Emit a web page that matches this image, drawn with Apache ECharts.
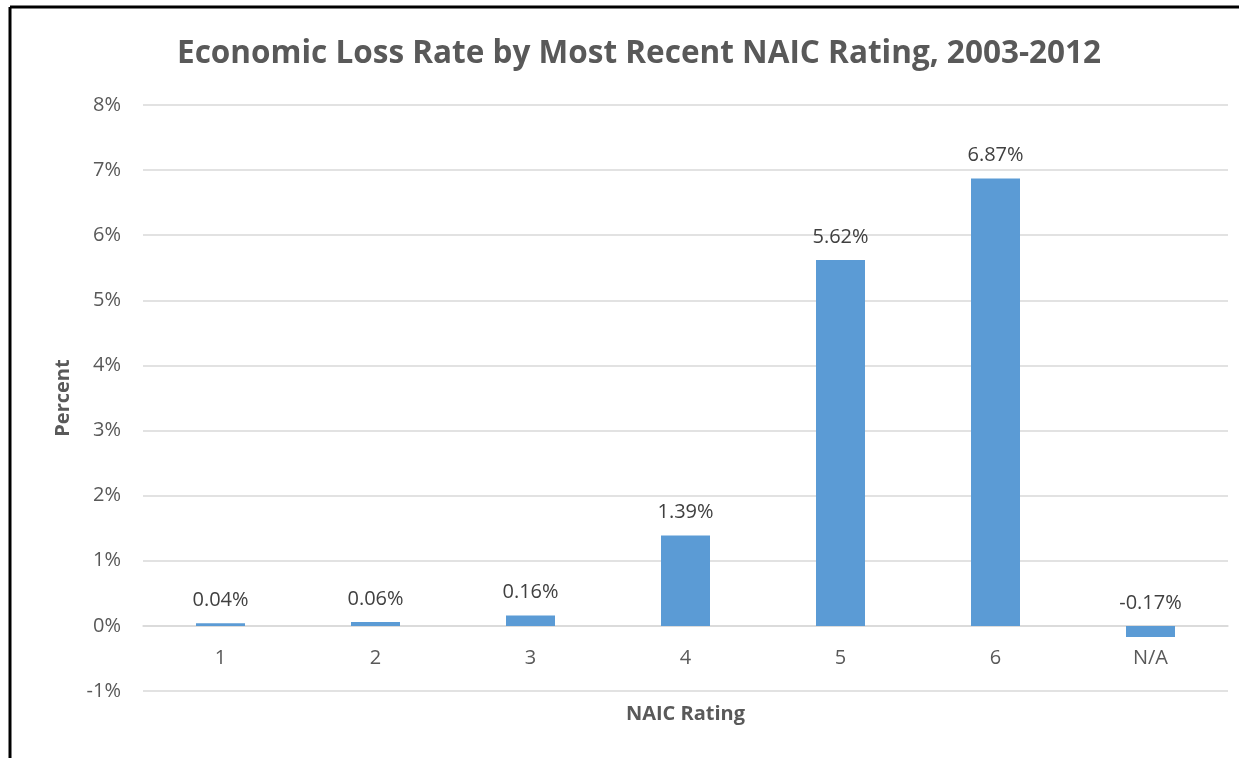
<!DOCTYPE html>
<html><head><meta charset="utf-8">
<script src="https://cdn.jsdelivr.net/npm/echarts@6/dist/echarts.min.js"></script>
<style>html,body{margin:0;padding:0;background:#fff}#c{width:1239px;height:758px}</style>
</head><body><div id="c"></div>
<script>
const categories = ['1','2','3','4','5','6','N/A'];
const lossRates = [0.04, 0.06, 0.16, 1.39, 5.62, 6.87, -0.17];
const yTicks = {min: -1, max: 8, interval: 1};

const font = '"Open Sans", "Noto Sans", sans-serif';
const gridTop = 105, gridBottom = 67, H = 758;
const plotH = H - gridTop - gridBottom;
const zeroOffset = plotH * (0 - yTicks.min) / (yTicks.max - yTicks.min);

const chart = echarts.init(document.getElementById('c'));
chart.setOption({
  backgroundColor: '#fff',
  animation: false,
  title: {
    text: 'Economic Loss Rate by Most Recent NAIC Rating, 2003-2012',
    left: 172, top: 33,
    textStyle: {fontFamily: font, fontSize: 31.5, fontWeight: 'bold', color: '#595959'}
  },
  grid: {left: 143, right: 11, top: gridTop, bottom: gridBottom, containLabel: false, outerBoundsMode: 'none'},
  xAxis: {
    type: 'category', data: categories,
    offset: -zeroOffset,
    name: 'NAIC Rating', nameLocation: 'middle', nameGap: 78,
    nameTextStyle: {fontFamily: font, fontSize: 20, fontWeight: 'bold', color: '#595959', verticalAlign: 'top'},
    axisLine: {onZero: false, lineStyle: {color: '#d9d9d9', width: 1.5}},
    axisTick: {show: false},
    axisLabel: {fontFamily: font, fontSize: 20, color: '#595959', margin: 22}
  },
  yAxis: {
    type: 'value', min: yTicks.min, max: yTicks.max, interval: yTicks.interval,
    name: 'Percent', nameLocation: 'middle', nameGap: 70, nameRotate: 90,
    nameTextStyle: {fontFamily: font, fontSize: 20, fontWeight: 'bold', color: '#595959'},
    axisLine: {show: false}, axisTick: {show: false},
    splitLine: {lineStyle: {color: '#d9d9d9', width: 1.5}},
    axisLabel: {fontFamily: font, fontSize: 20, color: '#595959', margin: 22, formatter: v => v + '%'}
  },
  series: [{
    type: 'bar', data: lossRates, barWidth: 49,
    itemStyle: {color: '#5b9bd5'},
    label: {
      show: true, fontFamily: font, fontSize: 20, color: '#404040', distance: 13,
      position: 'top',
      formatter: p => p.value.toFixed(2) + '%'
    }
  }],
  graphic: [
    {type: 'line', shape: {x1: 10, y1: 7, x2: 1239, y2: 7}, style: {stroke: '#000', lineWidth: 3}},
    {type: 'line', shape: {x1: 10, y1: 7, x2: 10, y2: 758}, style: {stroke: '#000', lineWidth: 3}}
  ]
});
</script></body></html>
